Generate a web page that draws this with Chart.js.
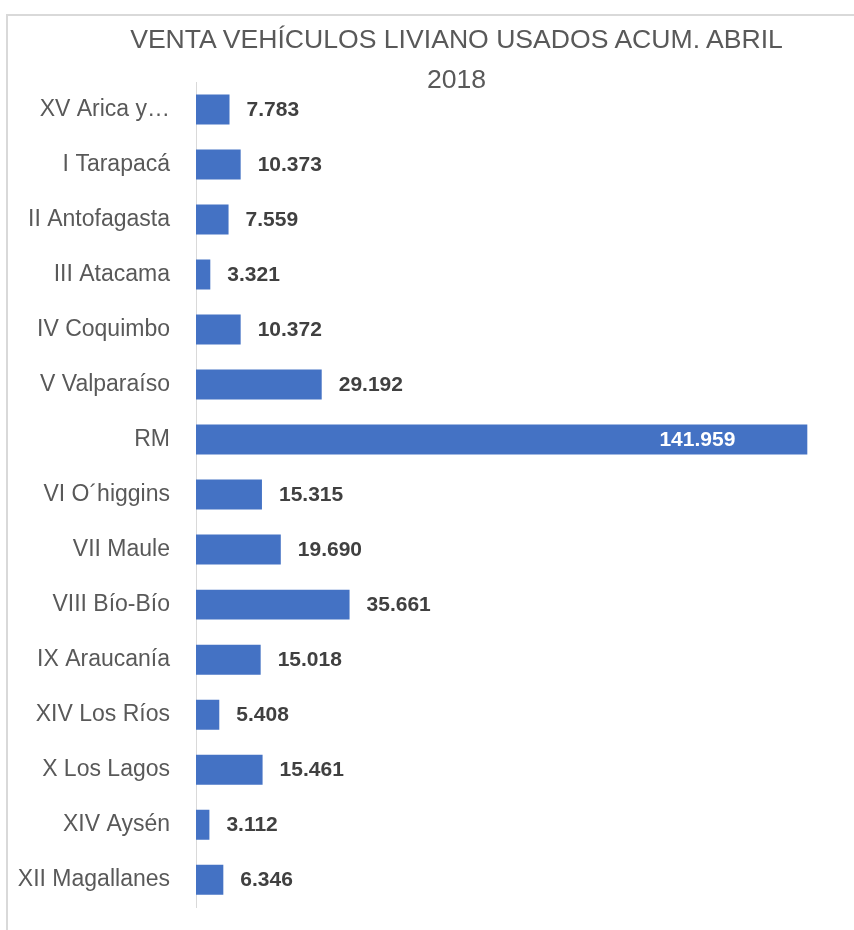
<!DOCTYPE html>
<html lang="es">
<head>
    <meta charset="utf-8">
    <script src="https://cdn.jsdelivr.net/npm/chart.js"></script>
    <style>
        html, body { margin: 0; padding: 0; background: #fff; overflow: hidden; }
        body { width: 854px; height: 930px; position: relative; }
        .frame {
            position: absolute; left: 6px; top: 14px;
            width: 1000px; height: 1000px;
            border: 2px solid #d9d9d9;
        }
        .chart-title {
            position: absolute; left: 0; top: 19px; width: 913px;
            text-align: center;
            font-family: 'Liberation Sans', Arial, sans-serif;
            font-size: 26.6px; line-height: 40px; color: #595959;
            z-index: 2;
        }
        .chart-box { position: absolute; left: 0; top: 0; width: 910px; height: 947px; }
    </style>
</head>
<body>
    <div class="frame"></div>
    <div class="chart-title">VENTA VEHÍCULOS LIVIANO USADOS ACUM. ABRIL<br>2018</div>
    <div class="chart-box"><canvas id="ventas"></canvas></div>

    <script>
        const regiones = ['XV Arica y…', 'I Tarapacá', 'II Antofagasta', 'III Atacama', 'IV Coquimbo',
            'V Valparaíso', 'RM', 'VI O´higgins', 'VII Maule', 'VIII Bío-Bío', 'IX Araucanía',
            'XIV Los Ríos', 'X Los Lagos', 'XIV Aysén', 'XII Magallanes'];
        const ventas = [7783, 10373, 7559, 3321, 10372, 29192, 141959, 15315, 19690, 35661, 15018, 5408, 15461, 3112, 6346];
        const ejeMax = 160000;

        const fmt = v => String(v).replace(/\B(?=(\d{3})+(?!\d))/g, '.');

        // etiquetas de valor al final de cada barra
        const etiquetas = {
            id: 'etiquetas',
            afterDatasetsDraw(chart) {
                const ctx = chart.ctx;
                const meta = chart.getDatasetMeta(0);
                const maxVal = Math.max(...ventas);
                ctx.save();
                ctx.font = 'bold 21px "Liberation Sans", Arial, sans-serif';
                ctx.textBaseline = 'middle';
                meta.data.forEach((bar, i) => {
                    const v = ventas[i];
                    if (v === maxVal) {
                        ctx.fillStyle = '#ffffff';
                        ctx.textAlign = 'right';
                        ctx.fillText(fmt(v), bar.x - 72, bar.y + 1);
                    } else {
                        ctx.fillStyle = '#404040';
                        ctx.textAlign = 'left';
                        ctx.fillText(fmt(v), bar.x + 17, bar.y + 1);
                    }
                });
                ctx.restore();
            }
        };

        new Chart(document.getElementById('ventas'), {
            type: 'bar',
            data: {
                labels: regiones,
                datasets: [{
                    data: ventas,
                    backgroundColor: '#4472c4',
                    borderWidth: 0,
                    categoryPercentage: 1,
                    barPercentage: 0.545
                }]
            },
            options: {
                indexAxis: 'y',
                responsive: true,
                maintainAspectRatio: false,
                animation: false,
                layout: { padding: { top: 82, bottom: 23, left: 0, right: 25 } },
                scales: {
                    x: {
                        display: false,
                        min: 0,
                        max: ejeMax
                    },
                    y: {
                        grid: { display: false, drawTicks: false },
                        border: { display: true, color: '#d9d9d9', width: 1 },
                        ticks: {
                            color: '#595959',
                            padding: 26,
                            font: { family: '"Liberation Sans", Arial, sans-serif', size: 23 }
                        },
                        afterFit(scale) { scale.width = 196; }
                    }
                },
                plugins: {
                    legend: { display: false },
                    title: { display: false },
                    tooltip: { enabled: false }
                }
            },
            plugins: [etiquetas]
        });
    </script>
</body>
</html>
